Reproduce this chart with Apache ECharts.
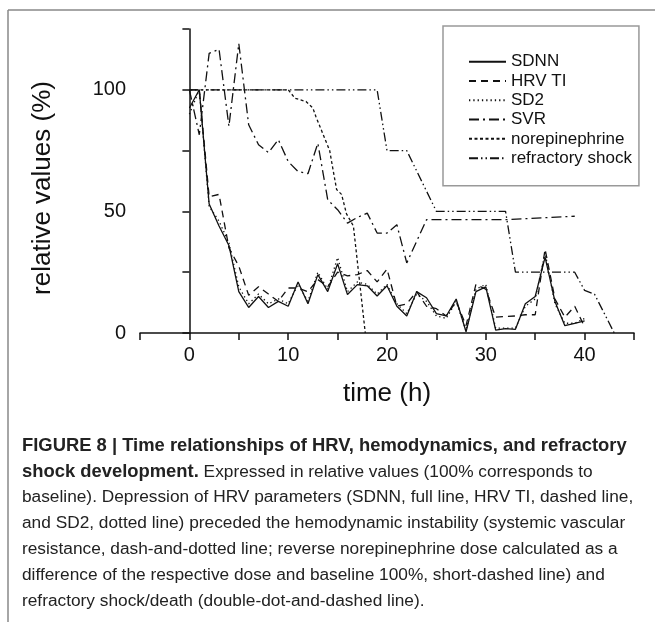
<!DOCTYPE html>
<html>
<head>
<meta charset="utf-8">
<script src="https://cdn.jsdelivr.net/npm/echarts@6/dist/echarts.min.js"></script>
<style>
  html, body { margin: 0; padding: 0; background: #fff; }
  #chart { width: 655px; height: 622px; }
</style>
</head>
<body>
<div id="chart"></div>
<script>
// HRV parameters, one value per hour
const hrvHours = [0, 1, 2, 3, 4, 5, 6, 7, 8, 9, 10, 11, 12, 13, 14, 15, 16, 17, 18, 19, 20,
  21, 22, 23, 24, 25, 26, 27, 28, 29, 30, 31, 32, 33, 34, 35, 36, 37, 38, 39, 40];
const sdnn = [92.5, 100, 53, 44, 36, 17, 10.5, 15, 10.5, 13, 11, 21, 12, 24, 17, 28.5, 15.8, 19.9, 19.4, 15.2, 19.4,
  11, 7, 17, 14.5, 8, 7, 14, 0.5, 17, 19, 1.2, 1.8, 1.5, 12, 15, 31.2, 13, 3, 4, 5];
const hrvTi = [100, 100, 56, 57, 35, 27.5, 15.5, 19, 16, 13, 18.5, 18.5, 17, 22, 19, 25, 23.5, 24, 25.7, 21, 26.3,
  11, 12, 17, 11, 10, 7, 13, 3, 20, 18, 6.5, 6.8, 7, 7.5, 7.5, 34.5, 14, 6.5, 11, 2.5];
const sd2 = [90, 100, 52, 46, 37, 19, 12, 16, 12, 14, 12, 20, 13, 25, 18, 31, 17, 21, 20, 16, 20,
  12, 8, 16, 13, 7, 6, 13, 1, 18, 20, 2, 2, 2, 11, 14, 33, 12, 4, 4, 6];

// hemodynamics
const svrHours = [0, 1, 2, 3, 4, 5, 6, 7, 8, 9, 10, 11, 12, 13, 14, 15, 16, 17, 18, 19, 20, 21, 22, 24, 32, 39];
const svr = [100, 81.5, 115, 116.7, 85, 119, 85.6, 77.4, 74.2, 79.5, 70.5, 66.4, 65.5, 78, 54.8, 50.7, 45.2, 47.5,
  49.3, 41.1, 41.1, 44.5, 28.8, 46.6, 46.6, 48];
const noreHours = [0, 10, 10.7, 11.8, 12.5, 12.8, 13.3, 14.2, 14.5, 14.9, 15.4, 15.9, 16.6, 17.8];
const nore = [100, 100, 96.5, 95.2, 92.5, 89, 84, 75, 68, 59, 57, 49, 44, 0];
const refrHours = [0, 19, 20, 22, 25, 32, 33, 39, 40, 41, 43];
const refr = [100, 100, 75, 75, 50, 50, 25, 25, 17.5, 16, 0];

const xTickLabels = [0, 10, 20, 30, 40];
const yTickLabels = [0, 50, 100];

const captionLines = [
  '{b|FIGURE 8 | Time relationships of HRV, hemodynamics, and refractory}',
  '{b|shock development.} Expressed in relative values (100% corresponds to',
  'baseline). Depression of HRV parameters (SDNN, full line, HRV TI, dashed line,',
  'and SD2, dotted line) preceded the hemodynamic instability (systemic vascular',
  'resistance, dash-and-dotted line; reverse norepinephrine dose calculated as a',
  'difference of the respective dose and baseline 100%, short-dashed line) and',
  'refractory shock/death (double-dot-and-dashed line).'
];

const FONT = "'Liberation Sans', Arial, sans-serif";
const INK = '#111';

function pairs(xs, ys) {
  return xs.map((x, i) => [x, ys[i]]);
}

function makeLine(name, xs, ys, dash) {
  return {
    name: name,
    type: 'line',
    data: pairs(xs, ys),
    symbol: 'none',
    color: INK,
    lineStyle: { color: INK, width: 1.3, type: dash },
    emphasis: { disabled: true },
    z: 3
  };
}

const myChart = echarts.init(document.getElementById('chart'));

const caption = captionLines.map((t, i) => ({
  type: 'text',
  left: 22,
  top: 437 + i * 26,
  style: {
    text: t,
    font: '17.3px ' + FONT,
    fill: '#222',
    rich: {
      b: { fontWeight: 'bold', fontSize: 18.4, fontFamily: FONT, fill: '#222' }
    }
  }
}));

const option = {
  animation: false,
  backgroundColor: '#fff',
  grid: { left: 140, right: 21, top: 29, bottom: 289 },
  xAxis: {
    type: 'value',
    min: -5,
    max: 45,
    interval: 5,
    name: 'time (h)',
    nameLocation: 'middle',
    nameGap: 48,
    nameTextStyle: { fontSize: 26, fontFamily: FONT, color: INK },
    axisLine: { show: true, onZero: false, lineStyle: { color: INK, width: 1.5 } },
    axisTick: { show: true, inside: false, length: 7, lineStyle: { color: INK, width: 1.5 } },
    axisLabel: {
      fontSize: 20, fontFamily: FONT, color: INK, margin: 12,
      formatter: v => (xTickLabels.indexOf(v) >= 0 ? String(v) : '')
    },
    splitLine: { show: false }
  },
  yAxis: {
    type: 'value',
    min: 0,
    max: 125,
    interval: 25,
    name: 'relative values (%)',
    nameLocation: 'middle',
    nameGap: 84,
    nameTextStyle: { fontSize: 26, fontFamily: FONT, color: INK, padding: [0, 14, 0, 0] },
    axisLine: { show: true, lineStyle: { color: INK, width: 1.5 } },
    axisTick: { show: true, inside: false, length: 7, lineStyle: { color: INK, width: 1.5 } },
    axisLabel: {
      fontSize: 20, fontFamily: FONT, color: INK, margin: 14,
      formatter: v => (yTickLabels.indexOf(v) >= 0 ? String(v) : '')
    },
    splitLine: { show: false }
  },
  legend: {
    orient: 'vertical',
    left: 443,
    top: 26,
    padding: [26, 7, 18, 25],
    itemWidth: 37,
    itemHeight: 12,
    itemGap: 0,
    itemStyle: { opacity: 0 },
    backgroundColor: '#fff',
    borderColor: '#999',
    borderWidth: 1.5,
    borderRadius: 0,
    textStyle: { fontSize: 17, fontFamily: FONT, color: INK, lineHeight: 19.3 },
    data: ['SDNN', 'HRV TI', 'SD2', 'SVR', 'norepinephrine', 'refractory shock']
  },
  graphic: [
    { type: 'line', shape: { x1: 8, y1: 10, x2: 655, y2: 10 }, style: { stroke: '#888', lineWidth: 1.5 } },
    { type: 'line', shape: { x1: 8, y1: 10, x2: 8, y2: 622 }, style: { stroke: '#888', lineWidth: 1.5 } }
  ].concat(caption),
  series: [
    makeLine('SDNN', hrvHours, sdnn, 'solid'),
    makeLine('HRV TI', hrvHours, hrvTi, [7, 5]),
    makeLine('SD2', hrvHours, sd2, [1.3, 3]),
    makeLine('SVR', svrHours, svr, [10, 4, 2, 4]),
    makeLine('norepinephrine', noreHours, nore, [3, 2.5]),
    makeLine('refractory shock', refrHours, refr, [9, 3, 1.5, 3, 1.5, 3])
  ]
};
myChart.setOption(option);
</script>
</body>
</html>
